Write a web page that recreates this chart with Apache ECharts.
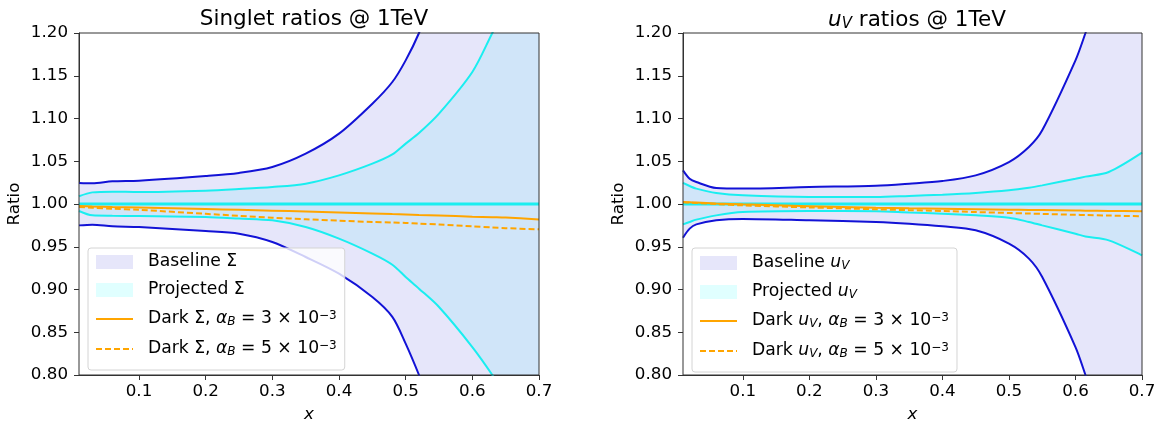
<!DOCTYPE html>
<html>
<head>
<meta charset="utf-8">
<script src="https://cdn.jsdelivr.net/npm/echarts@6/dist/echarts.min.js"></script>
<style>
  html, body { margin: 0; padding: 0; background: #fff; }
  #chart { width: 1159px; height: 423px; }
</style>
</head>
<body>
<div id="chart"></div>
<script>
const xTicks = [0.1, 0.2, 0.3, 0.4, 0.5, 0.6, 0.7]

// singlet panel (left)
const sX = [0.01, 0.03, 0.06, 0.1, 0.2, 0.25, 0.3, 0.35, 0.4, 0.45, 0.48, 0.5, 0.52, 0.55, 0.6, 0.63, 0.65, 0.7]
const sBaseUp = [1.0246, 1.0242, 1.0265, 1.0273, 1.0327, 1.0363, 1.0433, 1.0589, 1.0823, 1.1173, 1.1427, 1.168, 1.2, 1.26, 1.38, 1.46, 1.52, 1.7]
const sBaseLo = [0.975, 0.9758, 0.9739, 0.973, 0.9684, 0.9653, 0.9556, 0.938, 0.9185, 0.8912, 0.868, 0.8367, 0.8, 0.74, 0.62, 0.54, 0.48, 0.3]
const sProjUp = [1.009, 1.0136, 1.0144, 1.014, 1.0156, 1.0175, 1.0199, 1.0238, 1.0335, 1.0472, 1.058, 1.0706, 1.083, 1.1057, 1.1544, 1.2, 1.23, 1.33]
const sProjLo = [0.9918, 0.9867, 0.9862, 0.986, 0.9848, 0.983, 0.9809, 0.9731, 0.9595, 0.942, 0.929, 0.9146, 0.901, 0.8795, 0.8327, 0.8, 0.775, 0.69]
const sDark3 = [0.9977, 0.9972, 0.9966, 0.996, 0.9942, 0.9932, 0.9922, 0.9912, 0.9901, 0.989, 0.9882, 0.9877, 0.9872, 0.9865, 0.9852, 0.9846, 0.9842, 0.982]
const sDark5 = [0.9965, 0.9956, 0.9945, 0.9932, 0.9885, 0.9862, 0.984, 0.9822, 0.9805, 0.979, 0.9783, 0.9778, 0.977, 0.976, 0.9738, 0.9725, 0.9717, 0.9704]

// valence panel (right)
const vX = [0.01, 0.02, 0.03, 0.06, 0.1, 0.2, 0.3, 0.35, 0.4, 0.45, 0.5, 0.53, 0.55, 0.6, 0.615, 0.65, 0.7]
const vBaseUp = [1.0394, 1.0296, 1.0257, 1.0187, 1.018, 1.0199, 1.0214, 1.0238, 1.0269, 1.0335, 1.0491, 1.0667, 1.0862, 1.168, 1.2, 1.28, 1.4]
const vBaseLo = [0.9606, 0.9712, 0.9762, 0.9809, 0.9825, 0.9809, 0.979, 0.977, 0.9739, 0.9692, 0.9536, 0.9361, 0.9146, 0.8327, 0.8, 0.72, 0.6]
const vProjUp = [1.0246, 1.021, 1.018, 1.0129, 1.0101, 1.0082, 1.0082, 1.0095, 1.0109, 1.0129, 1.016, 1.019, 1.0218, 1.0296, 1.032, 1.0374, 1.06]
const vProjLo = [0.9762, 0.979, 0.9817, 0.9867, 0.9906, 0.9918, 0.9914, 0.99, 0.9887, 0.9867, 0.984, 0.979, 0.975, 0.9653, 0.962, 0.9575, 0.94]
const vDark3 = [1.0023, 1.002, 1.0017, 1.0007, 0.9996, 0.9975, 0.9957, 0.995, 0.9945, 0.994, 0.9934, 0.9931, 0.9929, 0.9924, 0.9922, 0.9919, 0.9914]
const vDark5 = [1.002, 1.0016, 1.0012, 0.9999, 0.9984, 0.996, 0.9938, 0.9928, 0.9918, 0.9906, 0.9895, 0.9889, 0.9884, 0.9874, 0.9871, 0.9865, 0.9856]

const BLUE = '#1212d6'
const CYAN = '#1aeef0'
const ORANGE = '#ffa500'
const LAVENDER = '#e6e6fa'
const OVERLAP = '#d0e5f9'
const LIGHTCYAN = '#e0ffff'
const AXIS = '#333'

const font = 'DejaVu Sans'
const tickSize = 16.7
const legendSize = 17.2

function pairs(xs, ys) {
  return xs.map((x, i) => [x, ys[i]])
}

// filled area from a curve down to the bottom of the axis
function fill(xs, ys, color, idx) {
  return {
    type: 'line',
    xAxisIndex: idx,
    yAxisIndex: idx,
    data: pairs(xs, ys),
    smooth: 0.3,
    showSymbol: false,
    silent: true,
    lineStyle: { width: 0, opacity: 0 },
    areaStyle: { color: color, opacity: 1, origin: 'start' },
    itemStyle: { color: color }
  }
}

function curve(name, xs, ys, color, idx, dashed, width) {
  return {
    name: name,
    type: 'line',
    xAxisIndex: idx,
    yAxisIndex: idx,
    data: pairs(xs, ys),
    smooth: 0.3,
    showSymbol: false,
    symbol: 'none',
    silent: true,
    lineStyle: { color: color, width: width || 2, type: dashed ? [6, 3] : 'solid' },
    itemStyle: { color: color }
  }
}

function panel(idx, xs, bu, bl, pu, pl, d3, d5, names) {
  return [
    Object.assign(fill(xs, bu, LAVENDER, idx), { name: names[0] }),
    Object.assign(fill(xs, pu, OVERLAP, idx), { name: names[1] }),
    fill(xs, pl, LAVENDER, idx),
    fill(xs, bl, '#ffffff', idx),
    curve('b-up' + idx, xs, bu, BLUE, idx),
    curve('b-lo' + idx, xs, bl, BLUE, idx),
    curve('p-up' + idx, xs, pu, CYAN, idx),
    curve('p-lo' + idx, xs, pl, CYAN, idx),
    curve('c' + idx, [0.01, 0.7], [1, 1], CYAN, idx, false, 3),
    curve(names[2], xs, d3, ORANGE, idx),
    curve(names[3], xs, d5, ORANGE, idx, true)
  ]
}

const leftNames = ['Baseline Σ', 'Projected Σ', 'Dark Σ 3', 'Dark Σ 5']
const rightNames = ['Baseline uV', 'Projected uV', 'Dark uV 3', 'Dark uV 5']

const legendText = {
  'Baseline Σ': 'Baseline Σ',
  'Projected Σ': 'Projected Σ',
  'Dark Σ 3': 'Dark Σ, {i|α}{sub|B} = 3 × 10{sup|−3}',
  'Dark Σ 5': 'Dark Σ, {i|α}{sub|B} = 5 × 10{sup|−3}',
  'Baseline uV': 'Baseline {i|u}{sub|V}',
  'Projected uV': 'Projected {i|u}{sub|V}',
  'Dark uV 3': 'Dark {i|u}{sub|V}, {i|α}{sub|B} = 3 × 10{sup|−3}',
  'Dark uV 5': 'Dark {i|u}{sub|V}, {i|α}{sub|B} = 5 × 10{sup|−3}'
}

const rich = {
  i: { fontFamily: font, fontSize: legendSize, fontStyle: 'italic', color: '#000', lineHeight: 18 },
  sub: { fontFamily: font, fontSize: 12, fontStyle: 'italic', color: '#000', lineHeight: 18, verticalAlign: 'bottom', padding: [7, 0, 0, 0] },
  sup: { fontFamily: font, fontSize: 12, color: '#000', lineHeight: 18, verticalAlign: 'top', padding: [0, 0, 7, 0] }
}

function legend(left, names) {
  return {
    left: left,
    top: 248,
    orient: 'vertical',
    itemWidth: 37,
    itemHeight: 14,
    itemGap: 10,
    padding: [5, 8, 11, 7],
    backgroundColor: 'rgba(255,255,255,0.8)',
    borderColor: '#d4d4d4',
    borderWidth: 1,
    borderRadius: 3,
    selectedMode: false,
    data: [
      { name: names[0], icon: 'rect', itemStyle: { color: LAVENDER, borderWidth: 0 } },
      { name: names[1], icon: 'rect', itemStyle: { color: LIGHTCYAN, borderWidth: 0 } },
      { name: names[2], itemStyle: { opacity: 0 } },
      { name: names[3], itemStyle: { opacity: 0 } }
    ],
    formatter: n => legendText[n],
    textStyle: { fontFamily: font, fontSize: legendSize, color: '#000', lineHeight: 18, padding: [0, 0, 0, 10], rich: rich }
  }
}

function xAxis(idx) {
  return {
    type: 'value',
    gridIndex: idx,
    min: 0.01,
    max: 0.7,
    name: 'x',
    nameLocation: 'middle',
    nameGap: 31,
    nameTextStyle: { fontFamily: font, fontSize: tickSize, fontStyle: 'italic', color: '#000' },
    splitLine: { show: false },
    axisLine: { show: true, onZero: false, lineStyle: { color: AXIS, width: 1 } },
    axisTick: { show: true, length: 5, customValues: xTicks, lineStyle: { color: AXIS } },
    axisLabel: {
      customValues: xTicks,
      formatter: v => v.toFixed(1),
      fontFamily: font, fontSize: tickSize, color: '#000', margin: 8
    }
  }
}

function yAxis(idx) {
  return {
    type: 'value',
    gridIndex: idx,
    min: 0.8,
    max: 1.2,
    interval: 0.05,
    name: 'Ratio',
    nameLocation: 'middle',
    nameGap: 56,
    nameTextStyle: { fontFamily: font, fontSize: tickSize, color: '#000' },
    splitLine: { show: false },
    axisLine: { show: true, lineStyle: { color: AXIS, width: 1 } },
    axisTick: { show: true, length: 5, lineStyle: { color: AXIS } },
    axisLabel: {
      formatter: v => v.toFixed(2),
      fontFamily: font, fontSize: tickSize, color: '#000', margin: 11
    }
  }
}

const chart = echarts.init(document.getElementById('chart'), null, { renderer: 'canvas' })

chart.setOption({
  animation: false,
  backgroundColor: '#fff',
  title: [
    {
      text: 'Singlet ratios @ 1TeV',
      left: 309, top: 3, textAlign: 'center',
      textStyle: { fontFamily: font, fontSize: 21.5, fontWeight: 'normal', color: '#000' }
    },
    {
      text: '{i|u}{sub|V} ratios @ 1TeV',
      left: 912, top: 3, textAlign: 'center',
      textStyle: {
        fontFamily: font, fontSize: 21.5, fontWeight: 'normal', color: '#000', lineHeight: 24,
        rich: {
          i: { fontFamily: font, fontSize: 21.5, fontStyle: 'italic', color: '#000', lineHeight: 24 },
          sub: { fontFamily: font, fontSize: 15, fontStyle: 'italic', color: '#000', lineHeight: 24, verticalAlign: 'bottom', padding: [8, 0, 0, 0] }
        }
      }
    }
  ],
  grid: [
    { left: 79, top: 33, width: 460, height: 342, outerBoundsMode: 'none', show: true, borderColor: AXIS, borderWidth: 1, backgroundColor: 'transparent', z: 10 },
    { left: 683, top: 33, width: 459, height: 342, outerBoundsMode: 'none', show: true, borderColor: AXIS, borderWidth: 1, backgroundColor: 'transparent', z: 10 }
  ],
  xAxis: [xAxis(0), xAxis(1)],
  yAxis: [yAxis(0), yAxis(1)],
  legend: [legend(88, leftNames), legend(692, rightNames)],
  series: [].concat(
    panel(0, sX, sBaseUp, sBaseLo, sProjUp, sProjLo, sDark3, sDark5, leftNames),
    panel(1, vX, vBaseUp, vBaseLo, vProjUp, vProjLo, vDark3, vDark5, rightNames)
  )
})
</script>
</body>
</html>
